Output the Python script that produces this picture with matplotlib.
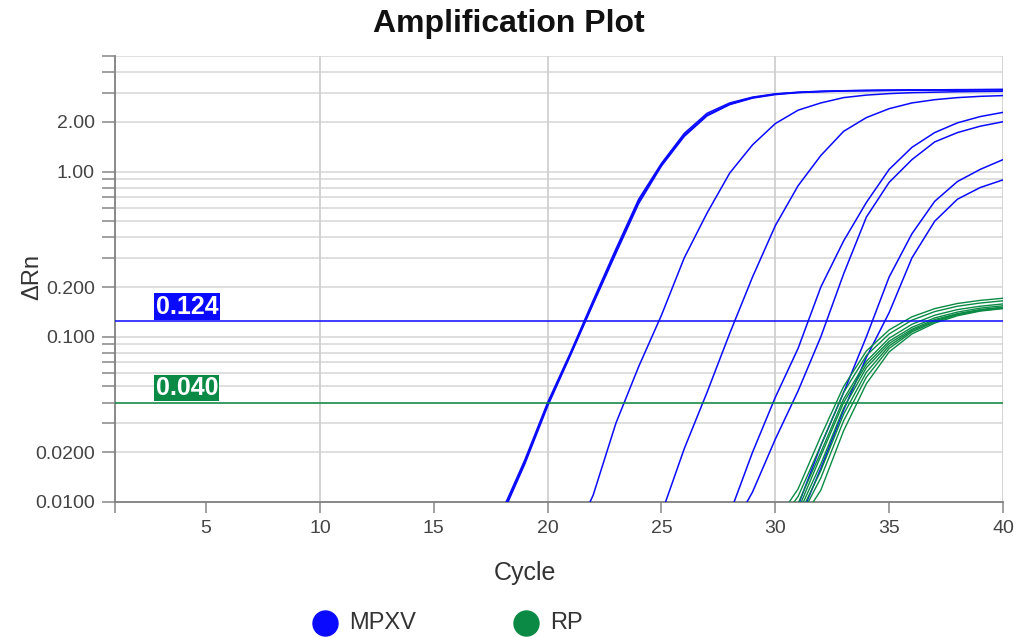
import numpy as np
import matplotlib
matplotlib.use("Agg")
import matplotlib.pyplot as plt
from matplotlib.lines import Line2D

plt.rcParams['font.family'] = ['Liberation Sans', 'DejaVu Sans']

# --- data (dRn per cycle) ---
mpxv_start = [18, 18, 18, 21, 25, 28, 28, 30, 30]
mpxv_values = [
    [0.0088, 0.018, 0.040, 0.080, 0.166, 0.34, 0.68, 1.12, 1.70, 2.25, 2.60, 2.82, 2.95, 3.02, 3.06, 3.08, 3.10, 3.11, 3.12, 3.12, 3.13, 3.13, 3.14],
    [0.0085, 0.0175, 0.039, 0.078, 0.160, 0.33, 0.66, 1.10, 1.66, 2.20, 2.56, 2.80, 2.94, 3.01, 3.05, 3.08, 3.09, 3.10, 3.11, 3.12, 3.12, 3.13, 3.13],
    [0.0083, 0.017, 0.038, 0.077, 0.158, 0.32, 0.64, 1.08, 1.63, 2.17, 2.54, 2.78, 2.92, 3.00, 3.04, 3.07, 3.08, 3.09, 3.10, 3.11, 3.11, 3.12, 3.12],
    [0.0055, 0.011, 0.030, 0.066, 0.135, 0.30, 0.56, 0.98, 1.45, 1.95, 2.35, 2.60, 2.80, 2.90, 2.96, 3.00, 3.02, 3.04, 3.05, 3.06],
    [0.0085, 0.021, 0.046, 0.105, 0.23, 0.47, 0.82, 1.25, 1.75, 2.12, 2.40, 2.60, 2.72, 2.80, 2.85, 2.88],
    [0.0085, 0.020, 0.043, 0.085, 0.20, 0.38, 0.65, 1.03, 1.40, 1.72, 1.97, 2.15, 2.28],
    [0.0065, 0.0115, 0.024, 0.047, 0.10, 0.24, 0.53, 0.86, 1.18, 1.51, 1.72, 1.88, 2.00],
    [0.0045, 0.0095, 0.022, 0.046, 0.10, 0.23, 0.42, 0.66, 0.87, 1.03, 1.18],
    [0.0035, 0.0075, 0.016, 0.036, 0.075, 0.14, 0.30, 0.50, 0.68, 0.80, 0.89],
]

rp_start = 30
rp_values = [
    [0.0075, 0.0120, 0.025, 0.050, 0.082, 0.110, 0.132, 0.148, 0.159, 0.166, 0.171],
    [0.0070, 0.0108, 0.022, 0.046, 0.077, 0.104, 0.126, 0.142, 0.153, 0.160, 0.165],
    [0.0065, 0.0098, 0.020, 0.042, 0.071, 0.098, 0.119, 0.135, 0.146, 0.153, 0.158],
    [0.0062, 0.0090, 0.019, 0.040, 0.068, 0.094, 0.114, 0.130, 0.141, 0.149, 0.154],
    [0.0060, 0.0085, 0.0170, 0.037, 0.065, 0.091, 0.111, 0.127, 0.138, 0.146, 0.151],
    [0.0058, 0.0080, 0.0155, 0.034, 0.061, 0.088, 0.109, 0.125, 0.137, 0.145, 0.150],
    [0.0056, 0.0076, 0.0140, 0.031, 0.057, 0.085, 0.107, 0.123, 0.136, 0.144, 0.149],
    [0.0054, 0.0072, 0.0118, 0.027, 0.052, 0.081, 0.104, 0.121, 0.134, 0.143, 0.148],
]

thresholds = {'MPXV': 0.124, 'RP': 0.040}
threshold_labels = ['0.124', '0.040']
targets = ['MPXV', 'RP']
colors = {'MPXV': '#0a0aff', 'RP': '#0b8a45'}

y_major = [0.01, 0.02, 0.1, 0.2, 1.0, 2.0]
y_major_labels = ['0.0100', '0.0200', '0.100', '0.200', '1.00', '2.00']
y_minor = [0.03, 0.04, 0.05, 0.06, 0.07, 0.08, 0.09,
           0.3, 0.4, 0.5, 0.6, 0.7, 0.8, 0.9, 3.0, 4.0, 5.0]
x_ticks = [1, 5, 10, 15, 20, 25, 30, 35, 40]
x_tick_labels = ['', '5', '10', '15', '20', '25', '30', '35', '40']

fig = plt.figure(figsize=(10.18, 6.37), dpi=100)
ax = fig.add_axes([115/1018, 1-502/637, (1003-115)/1018, (502-56)/637])

for start, vals in zip(mpxv_start, mpxv_values):
    cyc = np.arange(start, start + len(vals))
    ax.plot(cyc, vals, color=colors['MPXV'], lw=1.1, zorder=3)
for vals in rp_values:
    cyc = np.arange(rp_start, rp_start + len(vals))
    ax.plot(cyc, vals, color=colors['RP'], lw=1.0, zorder=3)

ax.set_yscale('log')
ax.set_xlim(1, 40)
ax.set_ylim(0.01, 5)

# gridlines
gcol = '#dcdcdc'
for v in y_major + y_minor:
    ax.axhline(v, color=gcol, lw=1.3, zorder=0)
for c in [10, 20, 30, 40]:
    ax.axvline(c, color='#d0d0d0', lw=1.3, zorder=0)

# thresholds with labels
for t, lab in zip(targets, threshold_labels):
    ax.axhline(thresholds[t], color=colors[t], lw=1.1, zorder=4)
    ax.annotate(lab, xy=(4.16, thresholds[t]), xytext=(0, 10.5), textcoords='offset points',
                ha='center', va='center', color='white', fontsize=18, fontweight='bold',
                bbox=dict(boxstyle='square,pad=0.05', fc=colors[t], ec='none'), zorder=5)

ax.set_yticks(y_major)
ax.set_yticklabels(y_major_labels)
ax.set_yticks(y_minor, minor=True)
ax.yaxis.set_minor_formatter(plt.NullFormatter())
ax.set_xticks(x_ticks)
ax.set_xticklabels(x_tick_labels)

ax.tick_params(axis='y', which='both', length=9.5, width=1.2, color='#909090',
               labelsize=14, labelcolor='#444444', pad=5)
ax.tick_params(axis='x', which='both', length=8, width=1.2, color='#909090',
               labelsize=14, labelcolor='#444444', pad=5)

for s in ['top', 'right']:
    ax.spines[s].set_visible(False)
for s in ['left', 'bottom']:
    ax.spines[s].set_color('#808080')
    ax.spines[s].set_linewidth(1.3)

fig.text(0.5, 1 - 24/637, 'Amplification Plot', ha='center', va='center',
         fontsize=23, fontweight='bold', color='#111111')
fig.text(32/1018, 1 - 277/637, 'ΔRn', ha='center', va='center', rotation=90,
         fontsize=17, color='#333333')
fig.text(525/1018, 1 - 573/637, 'Cycle', ha='center', va='center',
         fontsize=18, color='#333333')

# legend
for t, cx in zip(targets, [325, 526]):
    fig.add_artist(Line2D([cx/1018], [1 - 623/637], transform=fig.transFigure,
                          marker='o', markersize=18, color=colors[t], lw=0))
    fig.text((cx + 24)/1018, 1 - 623/637, t, ha='left', va='center',
             fontsize=17, color='#333333')

fig.savefig('out.png', dpi=100)
